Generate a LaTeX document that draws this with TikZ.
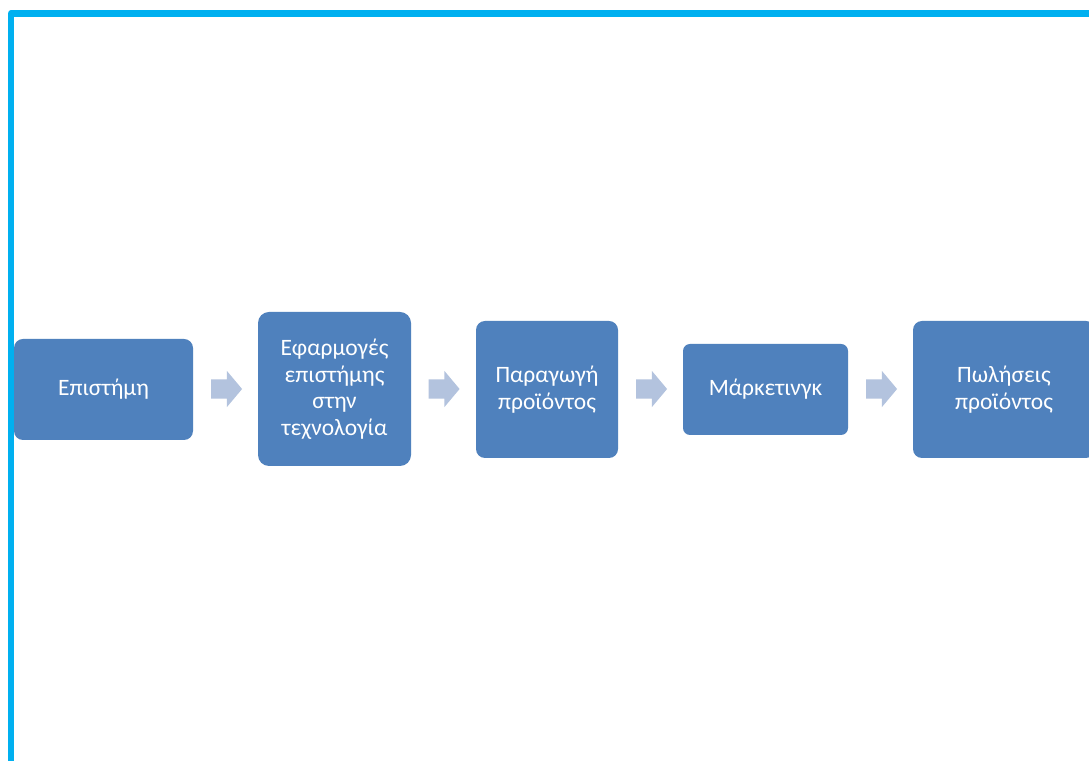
\documentclass[tikz,border=0pt]{standalone}
\usepackage{fontspec}
\setmainfont{Carlito}
\usetikzlibrary{shapes.arrows}
\definecolor{boxblue}{HTML}{4F81BD}
\definecolor{arrowblue}{HTML}{B3C3DE}
\definecolor{framecyan}{HTML}{00B0F0}
\begin{document}
\begin{tikzpicture}[x=1pt,y=1pt,
  stepbox/.style={rectangle, rounded corners=9pt, fill=boxblue, text=white,
    inner sep=0pt, align=center, font=\fontsize{23.5}{26.5}\selectfont},
  flowarrow/.style={single arrow, fill=arrowblue, inner sep=0pt,
    minimum width=36pt, minimum height=31pt, single arrow head extend=8.5pt,
    single arrow tip angle=100, anchor=center}]
\useasboundingbox (0,0) rectangle (1089,760);
\clip (0,0) rectangle (1089,760);
\fill[white] (0,0) rectangle (1089,760);
% frame
\draw[framecyan, line width=6.5pt, line join=round] (11,-5) -- (11,746.5) -- (1095,746.5);
% boxes
\node[stepbox, minimum width=179pt, minimum height=101pt] (b1) at (103.5,370.5) {Επιστήμη};
\node[stepbox, minimum width=153pt, minimum height=154pt, rounded corners=11pt] (b2) at (334.5,371) {Εφαρμογές\\επιστήμης\\στην\\τεχνολογία};
\node[stepbox, minimum width=142pt, minimum height=137pt] (b3) at (547,370.5) {Παραγωγή\\προϊόντος};
\node[stepbox, minimum width=165pt, minimum height=91pt, rounded corners=7pt] (b4) at (765.5,370.5) {Μάρκετινγκ};
\node[stepbox, minimum width=182pt, minimum height=137pt] (b5) at (1004,370.5) {Πωλήσεις\\προϊόντος};
% arrows
\node[flowarrow] (a1) at (222.5,371) {\rule{0pt}{19pt}};
\node[flowarrow] (a2) at (440,371) {\rule{0pt}{19pt}};
\node[flowarrow] (a3) at (647.5,371) {\rule{0pt}{19pt}};
\node[flowarrow] (a4) at (877.5,371) {\rule{0pt}{19pt}};
\end{tikzpicture}
\end{document}
